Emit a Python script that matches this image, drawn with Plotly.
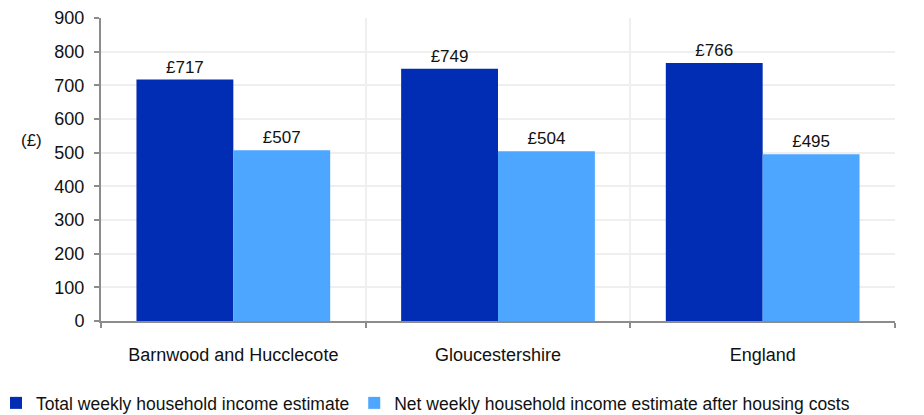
import plotly.graph_objects as go

categories = ["Barnwood and Hucclecote", "Gloucestershire", "England"]
total_income = [717, 749, 766]
net_income = [507, 504, 495]
series_names = ["Total weekly household income estimate",
                "Net weekly household income estimate after housing costs"]
colors = ["#002DB3", "#4DA6FF"]
y_ticks = [0, 100, 200, 300, 400, 500, 600, 700, 800, 900]

font = "Liberation Sans, Arial, sans-serif"
xpos = list(range(len(categories)))

# page body has an 8px margin, so the figure is sized to fit the window
W, H = 916, 407
L, R, T, B = 93, 29, 10, 94
PW, PH = W - L - R, H - T - B
FS = 17

fig = go.Figure()
for name, vals, col in zip(series_names, [total_income, net_income], colors):
    fig.add_trace(go.Bar(
        x=xpos, y=vals, name=name, marker=dict(color=col, line=dict(width=0)),
        text=vals, texttemplate="£%{y}", textposition="outside",
        textfont=dict(size=FS, color="#111"), cliponaxis=False,
    ))

fig.update_layout(
    width=W, height=H,
    margin=dict(l=L, r=R, t=T, b=B, autoexpand=False),
    paper_bgcolor="white", plot_bgcolor="white",
    font=dict(family=font, size=FS, color="#111"),
    barmode="group", bargap=0.268, bargroupgap=0,
    showlegend=True,
    legend=dict(orientation="h", x=(-12 - L) / PW, xanchor="left",
                y=-(377 - (T + PH)) / PH, yanchor="top",
                font=dict(size=17.5), itemwidth=30, traceorder="normal"),
    annotations=[dict(text="(£)", x=(23 - L) / PW, y=(T + PH - 132) / PH,
                      xref="paper", yref="paper", xanchor="center", yanchor="middle",
                      showarrow=False, font=dict(size=FS))],
)

fig.update_xaxes(
    range=[-0.5, 2.5], tickvals=xpos, ticktext=categories, ticks="",
    showgrid=False, showline=True, linecolor="#8c8c8c", linewidth=2,
    ticklabelstandoff=16, tickfont=dict(size=18),
    minor=dict(tick0=0.5, dtick=1, ticks="outside", ticklen=5, tickcolor="#8c8c8c",
               tickwidth=2, showgrid=True, gridcolor="#efefef", gridwidth=2),
    zeroline=False,
)
fig.update_yaxes(
    range=[0, 900], tickvals=y_ticks, ticks="outside", ticklen=5,
    tickcolor="#8c8c8c", tickwidth=2, showline=True, linecolor="#8c8c8c", linewidth=2,
    showgrid=True, gridcolor="#efefef", gridwidth=2, zeroline=False,
    tickfont=dict(size=18), ticklabelstandoff=6,
)

fig.write_html("out.html")
